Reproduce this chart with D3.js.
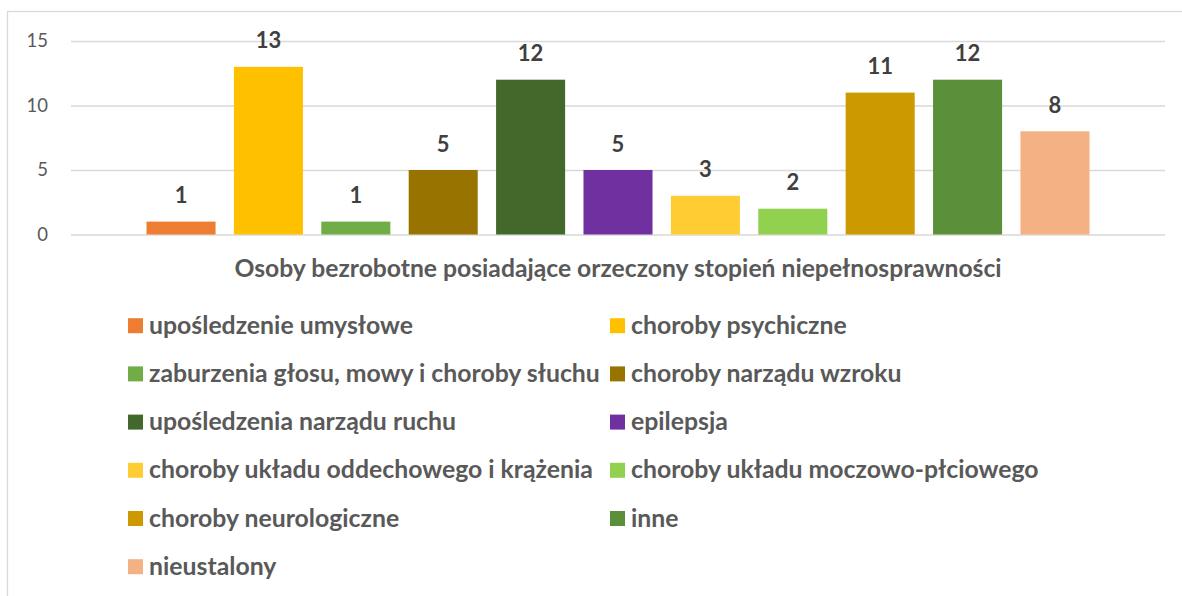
<html>
    <style>
        body { margin: 0; background: #fff; }
        text { font-family: Lato, "Open Sans", sans-serif; }
    </style>
    <body>
        <div id="chart"><svg></svg></div>
    </body>
    <script src="https://d3js.org/d3.v7.min.js"></script>
    <script>
    // one category, eleven series (Excel clustered column)
    var category = "Osoby bezrobotne posiadające orzeczony stopień niepełnosprawności"
    var series = ["upośledzenie umysłowe", "choroby psychiczne", "zaburzenia głosu, mowy i choroby słuchu",
                  "choroby narządu wzroku", "upośledzenia narządu ruchu", "epilepsja",
                  "choroby układu oddechowego i krążenia", "choroby układu moczowo-płciowego",
                  "choroby neurologiczne", "inne", "nieustalony"]
    var values = [1, 13, 1, 5, 12, 5, 3, 2, 11, 12, 8]
    var colors = ["#ED7D31", "#FFC000", "#70AD47", "#997300", "#43682B", "#7030A0",
                  "#FFCD33", "#92D050", "#CC9A00", "#5B8F3A", "#F4B183"]
    var yTicks = [0, 5, 10, 15]

    var screen = {width: 1182, height: 596}
    var plot = {left: 71, right: 1165, top: 41, bottom: 234.5}

    var svg = d3.select("#chart svg")
                .attr("width", screen.width)
                .attr("height", screen.height)

    // chart border (right and bottom fall outside the picture)
    svg.append("rect")
        .attr("x", 7.5).attr("y", 11.5)
        .attr("width", 1200).attr("height", 600)
        .attr("fill", "none")
        .attr("stroke", "#D9D9D9")
        .attr("stroke-width", 1.3)

    var x0 = d3.scaleBand()
               .domain([category])
               .range([plot.left, plot.right])
               .paddingOuter(0.069)
    var x1 = d3.scaleBand()
               .domain(series)
               .range([0, x0.bandwidth()])
               .paddingInner(0.21)
               .paddingOuter(0.105)
    var yScale = d3.scaleLinear()
                   .domain([0, 15])
                   .range([plot.bottom, plot.top])

    // gridlines + y labels
    var yAxis = d3.axisLeft(yScale)
                  .tickValues(yTicks)
                  .tickSize(-(plot.right - plot.left))
                  .tickPadding(23)
    var ya = svg.append("g")
                .attr("transform", "translate(" + plot.left + ",0)")
                .call(yAxis)
    ya.select(".domain").remove()
    ya.selectAll(".tick line").attr("stroke", "#D9D9D9").attr("stroke-width", 1.3)
    ya.selectAll(".tick text")
        .attr("fill", "#595959")
        .style("font-size", "18.5px")
        .style("font-family", "Lato, sans-serif")

    // bars
    var g = svg.append("g").attr("transform", "translate(" + x0(category) + ",0)")
    g.selectAll("rect")
        .data(values)
        .enter()
        .append("rect")
        .attr("x", function(d, i){return x1(series[i])})
        .attr("y", function(d){return yScale(d)})
        .attr("width", x1.bandwidth())
        .attr("height", function(d){return yScale(0) - yScale(d)})
        .attr("fill", function(d, i){return colors[i]})

    g.selectAll("text.val")
        .data(values)
        .enter()
        .append("text")
        .attr("class", "val")
        .attr("x", function(d, i){return x1(series[i]) + x1.bandwidth()/2})
        .attr("y", function(d){return yScale(d) - 18.5})
        .attr("text-anchor", "middle")
        .attr("fill", "#404040")
        .style("font-size", "22px")
        .style("font-weight", "bold")
        .text(function(d){return d})

    // category title under the axis
    svg.append("text")
        .attr("x", (plot.left + plot.right)/2)
        .attr("y", 277)
        .attr("text-anchor", "middle")
        .attr("fill", "#595959")
        .style("font-size", "24.7px")
        .style("font-weight", "bold")
        .text(category)

    // legend, two columns
    var legend = svg.append("g")
    var items = legend.selectAll("g")
                      .data(series)
                      .enter()
                      .append("g")
                      .attr("transform", function(d, i){
                          var col = i % 2, row = Math.floor(i / 2)
                          return "translate(" + (col == 0 ? 128 : 610) + "," + (325.7 + row*48.2) + ")"
                      })
    items.append("rect")
        .attr("x", 0).attr("y", -7.5)
        .attr("width", 15).attr("height", 15)
        .attr("fill", function(d, i){return colors[i]})
    items.append("text")
        .attr("x", 21)
        .attr("y", 8)
        .attr("fill", "#595959")
        .style("font-size", "24.8px")
        .style("font-weight", "bold")
        .text(function(d){return d})
    </script>
</html>
